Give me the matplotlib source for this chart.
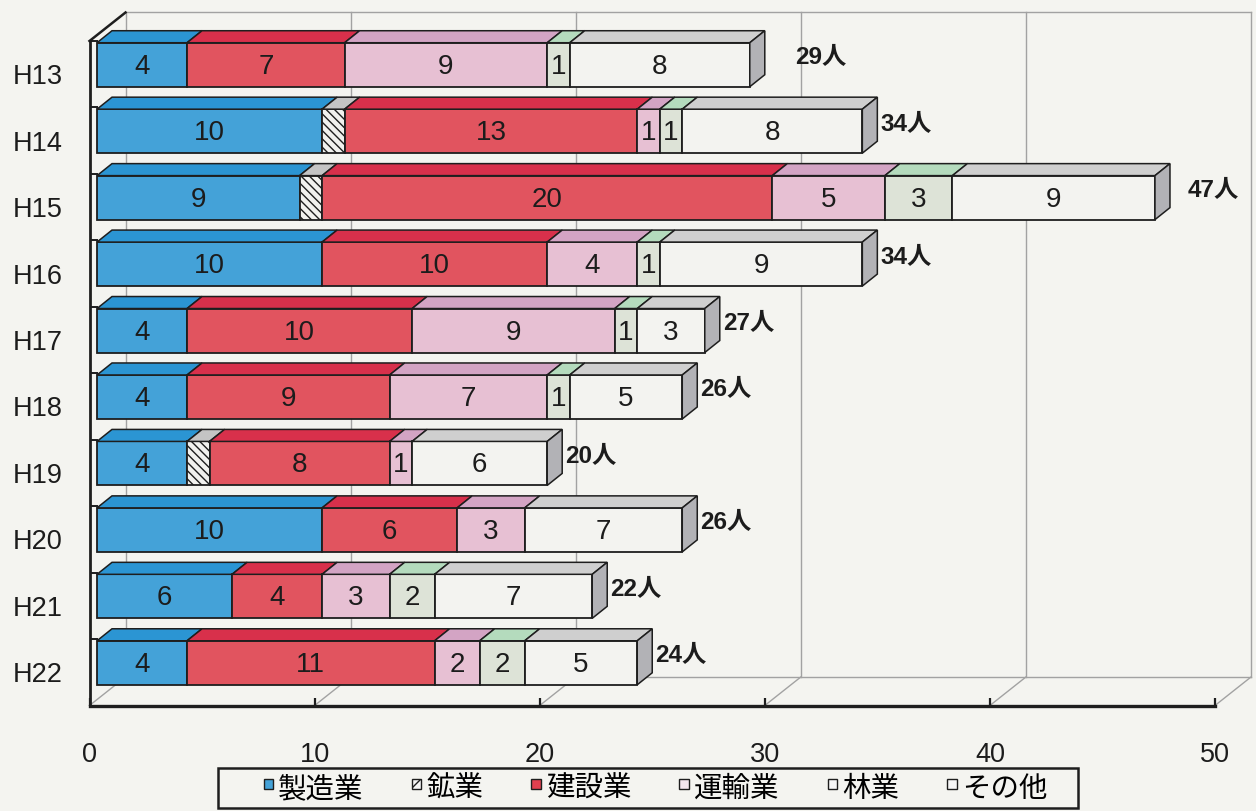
import numpy as np
import matplotlib
matplotlib.use("Agg")
import matplotlib.pyplot as plt
from matplotlib.patches import Polygon, Patch, Rectangle
from matplotlib.legend_handler import HandlerPatch

plt.rcParams['font.family'] = ['Liberation Sans', 'Noto Sans CJK JP']
plt.rcParams['hatch.linewidth'] = 1.0

# ---- data -------------------------------------------------------------
years = ['H13', 'H14', 'H15', 'H16', 'H17', 'H18', 'H19', 'H20', 'H21', 'H22']
industries = ['製造業', '鉱業', '建設業', '運輸業', '林業', 'その他']
manufacturing = [4, 10, 9, 10, 4, 4, 4, 10, 6, 4]
mining        = [0, 1, 1, 0, 0, 0, 1, 0, 0, 0]
construction  = [7, 13, 20, 10, 10, 9, 8, 6, 4, 11]
transport     = [9, 1, 5, 4, 9, 7, 1, 3, 3, 2]
forestry      = [1, 1, 3, 1, 1, 1, 0, 0, 2, 2]
other         = [8, 8, 9, 9, 3, 5, 6, 7, 7, 5]
x_ticks = [0, 10, 20, 30, 40, 50]
unit = '人'

# ---- styles -----------------------------------------------------------
BG = '#f4f4f0'
EDGE = '#1e1e1e'
WALL = '#a2a2a2'
styles = [
    dict(front='#44a2d8', top='#2b95d3', side='#2a7fb5', hatch=None, label=True),
    dict(front='#f1f1ee', top='#c4c4c4', side='#a8a8a8', hatch='\\\\\\\\', label=False),
    dict(front='#e1545f', top='#d8304b', side='#b8303e', hatch=None, label=True),
    dict(front='#e7c0d3', top='#d3a4c4', side='#b890a8', hatch=None, label=True),
    dict(front='#dde3d7', top='#b4dbbd', side='#a0b8a0', hatch=None, label=True),
    dict(front='#f3f3f0', top='#cfcfcf', side='#b2b2b6', hatch=None, label=True),
]
legend_faces = ['#44a2d8', '#f6f6f6', '#e1404f', '#f4e6ee', '#f6f6f6', '#f6f6f6']
legend_hatch = [None, '//', None, None, None, None]

# ---- figure / axes (axes box = front plane of the 3-D frame) -----------
W, H = 1256, 811
L, R, T, B = 89.5, 1215.0, 41.0, 705.5
fig = plt.figure(figsize=(W / 100, H / 100), dpi=100, facecolor=BG)
ax = fig.add_axes([L / W, 1 - B / H, (R - L) / W, (B - T) / H])
n = len(years)
ax.set_xlim(0, 50)
ax.set_ylim(n - 0.5, -0.5)
ax.set_facecolor('none')

ux = 50 / (R - L)          # data units per pixel along x
uy = n / (B - T)           # data units per pixel along y (axis inverted)

# depth of the frame walls and of the bars, in pixels
dxw, dyw = 36 * ux, -28.5 * uy
dxb, dyb = 15 * ux, -12 * uy
sx, sy = 7.5 * ux, -9.5 * uy     # bars sit slightly behind the front plane
bh = 44 * uy

top_y, bot_y = -0.5, n - 0.5

# back wall: vertical grid lines, top edge, floor back edge
for t in x_ticks:
    ax.plot([t + dxw, t + dxw], [top_y + dyw, bot_y + dyw], color=WALL,
            lw=1.0, zorder=1, clip_on=False)
    ax.plot([t, t + dxw], [bot_y, bot_y + dyw], color=WALL, lw=1.0,
            zorder=1, clip_on=False)
ax.plot([dxw, 50 + dxw], [top_y + dyw, top_y + dyw], color=WALL, lw=1.0,
        zorder=1, clip_on=False)
ax.plot([dxw, 50 + dxw], [bot_y + dyw, bot_y + dyw], color=WALL, lw=1.0,
        zorder=1, clip_on=False)
# left wall top edge
ax.plot([0, dxw], [top_y, top_y + dyw], color=EDGE, lw=1.8, zorder=2,
        clip_on=False)

# ---- bars --------------------------------------------------------------
series = [manufacturing, mining, construction, transport, forestry, other]
ypos = np.arange(n)
lefts = np.zeros(n)
ends_style = [None] * n
for vals, st in zip(series, styles):
    vals = np.asarray(vals, dtype=float)
    m = vals > 0
    ax.barh(ypos[m] + sy, vals[m], left=lefts[m] + sx, height=bh,
            color=st['front'], edgecolor=EDGE, linewidth=1.3,
            hatch=st['hatch'], zorder=3, clip_on=False)
    for i in np.where(m)[0]:
        l = lefts[i] + sx
        r = l + vals[i]
        yt = i + sy - bh / 2
        ax.add_patch(Polygon([(l, yt), (r, yt), (r + dxb, yt + dyb),
                              (l + dxb, yt + dyb)], closed=True,
                             facecolor=st['top'], edgecolor=EDGE,
                             linewidth=1.1, zorder=3, clip_on=False))
        if st['label']:
            ax.text(l + vals[i] / 2, i + sy + 2 * uy, f'{int(vals[i])}',
                    ha='center', va='center', fontsize=20, color='#1c1c1c',
                    zorder=5)
        ends_style[i] = st
    lefts = lefts + vals

totals = lefts
label_nudge = {0: 27, 2: 15}
for i in range(n):
    r = totals[i] + sx
    yt = i + sy - bh / 2
    yb = i + sy + bh / 2
    ax.add_patch(Polygon([(r, yt), (r, yb), (r + dxb, yb + dyb),
                          (r + dxb, yt + dyb)], closed=True,
                         facecolor=ends_style[i]['side'], edgecolor=EDGE,
                         linewidth=1.1, zorder=3, clip_on=False))
    ax.text(r + dxb + (3 + label_nudge.get(i, 0)) * ux, i + sy - 7 * uy,
            f'{int(totals[i])}{unit}', ha='left', va='center',
            fontsize=17.5, fontweight='bold', color='#1c1c1c', zorder=5)

# ---- axes frame, ticks and labels --------------------------------------
for s in ('top', 'right'):
    ax.spines[s].set_visible(False)
ax.spines['left'].set_linewidth(2.0)
ax.spines['left'].set_color(EDGE)
ax.spines['bottom'].set_linewidth(2.4)
ax.spines['bottom'].set_color(EDGE)

ax.set_xticks(x_ticks)
ax.set_xticklabels([str(t) for t in x_ticks])
ax.tick_params(axis='x', direction='in', length=6, width=1.6, colors=EDGE,
               pad=26, labelsize=19.5, labelcolor='#1c1c1c')
ax.set_yticks(ypos)
ax.set_yticklabels(years)
ax.set_yticks(np.arange(n) - 0.5, minor=True)
ax.tick_params(axis='y', which='major', length=0, pad=19.5, labelsize=19.5,
               labelcolor='#1c1c1c')
ax.tick_params(axis='y', which='minor', direction='in', length=6, width=1.4,
               colors=EDGE)


# ---- legend ------------------------------------------------------------
def small_square(legend, orig_handle, xdescent, ydescent, width, height,
                 fontsize):
    s = 6.8  # points
    x0 = -xdescent + (width - s) / 2
    y0 = -ydescent + height / 2 - s / 2 + 2.2
    return Rectangle((x0, y0), s, s)


fig.add_artist(Rectangle((218 / W, 1 - 808 / H), (1078 - 218) / W, 40 / H,
                         transform=fig.transFigure, facecolor=BG,
                         edgecolor=EDGE, linewidth=1.8, zorder=4))
handles = [Patch(facecolor=fc, edgecolor=EDGE, linewidth=1.0, hatch=h)
           for fc, h in zip(legend_faces, legend_hatch)]
leg = fig.legend(handles, industries, loc='center',
                 bbox_to_anchor=(655 / W, 1 - 789 / H), ncol=6,
                 frameon=False,
                 prop={'family': ['Noto Sans CJK JP'], 'size': 20.5},
                 handler_map={Patch: HandlerPatch(patch_func=small_square)},
                 handlelength=0.4, handleheight=0.7, handletextpad=0.15,
                 columnspacing=1.65, borderpad=0.0, borderaxespad=0)
leg.set_zorder(5)

fig.savefig('out.png', dpi=100, facecolor=BG)
